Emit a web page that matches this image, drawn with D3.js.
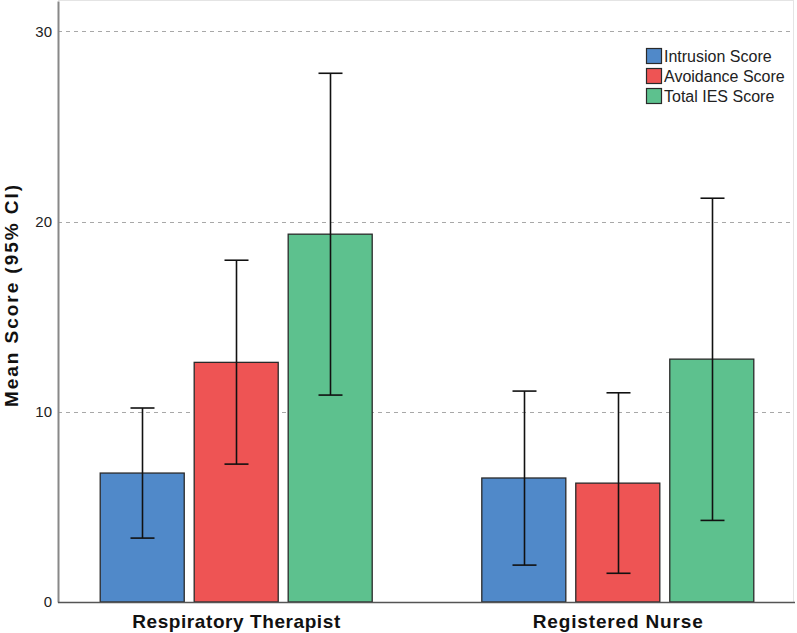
<!DOCTYPE html>
<html><head><meta charset="utf-8">
<script src="https://cdn.jsdelivr.net/npm/d3@7"></script>
<style>
html,body{margin:0;padding:0;background:#fff;}
svg{display:block;font-family:"Liberation Sans",Arial,sans-serif;}
</style></head>
<body>
<svg id="chart" width="797" height="633"></svg>
<script>
const categories = ["Respiratory Therapist", "Registered Nurse"];
const seriesNames = ["Intrusion Score", "Avoidance Score", "Total IES Score"];
const seriesColors = ["#5089c9", "#ee5454", "#5dc18e"];
const means = [[6.78, 12.6, 19.34], [6.52, 6.25, 12.77]];
const ciLow = [[3.36, 7.25, 10.88], [1.94, 1.51, 4.29]];
const ciHigh = [[10.2, 17.97, 27.8], [11.09, 11.0, 21.23]];
const yTicks = [0, 10, 20, 30];

(function () {
const svg = d3.select("#chart");
const mLeft = 58, mRight = 794, mTop = 1, mBottom = 602;

const y = d3.scaleLinear().domain([0, 31.6]).range([mBottom, mTop]);
const xg = d3.scalePoint().domain(categories).range([mLeft, 796]).padding(0.467);
const xs = d3.scaleBand().domain(seriesNames).range([-136, 136]).paddingInner(0.106);

// frame (faint)
svg.append("line").attr("x1", mLeft).attr("x2", mRight).attr("y1", 0.5).attr("y2", 0.5).attr("stroke", "#e4e4e4");
svg.append("line").attr("x1", mRight - 0.5).attr("x2", mRight - 0.5).attr("y1", 0).attr("y2", mBottom).attr("stroke", "#e4e4e4");

// gridlines
svg.append("g").selectAll("line").data(yTicks.filter(d => d > 0)).join("line")
  .attr("x1", mLeft).attr("x2", mRight - 2)
  .attr("y1", d => Math.round(y(d)) + 0.5).attr("y2", d => Math.round(y(d)) + 0.5)
  .attr("stroke", "#a8a8a8").attr("stroke-dasharray", "4,4").attr("stroke-width", 1);

// bars
const data = [];
categories.forEach((c, i) => seriesNames.forEach((s, j) => data.push({c, s, j, m: means[i][j], lo: ciLow[i][j], hi: ciHigh[i][j]})));

const g = svg.append("g");
g.selectAll("rect").data(data).join("rect")
  .attr("x", d => xg(d.c) + xs(d.s))
  .attr("y", d => y(d.m))
  .attr("width", xs.bandwidth())
  .attr("height", d => y(0) - y(d.m))
  .attr("fill", d => seriesColors[d.j])
  .attr("stroke", "#2a2a2a").attr("stroke-width", 1.3);

// error bars
const eb = svg.append("g").attr("stroke", "#111").attr("stroke-width", 1.6);
data.forEach(d => {
  const cx = Math.round(xg(d.c) + xs(d.s) + xs.bandwidth() / 2) + 0.5;
  eb.append("line").attr("x1", cx).attr("x2", cx).attr("y1", y(d.hi)).attr("y2", y(d.lo));
  eb.append("line").attr("x1", cx - 12).attr("x2", cx + 12).attr("y1", y(d.hi)).attr("y2", y(d.hi));
  eb.append("line").attr("x1", cx - 12).attr("x2", cx + 12).attr("y1", y(d.lo)).attr("y2", y(d.lo));
});

// axes
const yAxis = svg.append("g").attr("transform", `translate(${mLeft},0)`)
  .call(d3.axisLeft(y).tickValues(yTicks).tickSize(0).tickPadding(6));
yAxis.select(".domain").attr("stroke", "#888").attr("stroke-width", 2);
yAxis.selectAll("text").attr("font-size", 15).attr("fill", "#222")
  .attr("font-family", "'Liberation Sans',Arial,sans-serif");

svg.append("line").attr("x1", mLeft).attr("x2", 795).attr("y1", mBottom + 0.5).attr("y2", mBottom + 0.5)
  .attr("stroke", "#555").attr("stroke-width", 1.5);

const catWidths = [208, 170];
svg.append("g").selectAll("text").data(categories).join("text")
  .attr("x", d => xg(d)).attr("y", 628)
  .attr("text-anchor", "middle").attr("font-size", 19).attr("font-weight", "bold").attr("fill", "#111")
  .attr("textLength", (d, i) => catWidths[i]).attr("lengthAdjust", "spacing")
  .text(d => d);

svg.append("text")
  .attr("transform", "translate(18,296) rotate(-90)")
  .attr("text-anchor", "middle").attr("font-size", 19).attr("font-weight", "bold").attr("fill", "#111")
  .attr("textLength", 222).attr("lengthAdjust", "spacing")
  .text("Mean Score (95% CI)");

// legend
const lg = svg.append("g").attr("transform", "translate(646,48)");
seriesNames.forEach((s, j) => {
  const row = lg.append("g").attr("transform", `translate(0,${j * 20})`);
  row.append("rect").attr("x", 0.5).attr("y", 0.5).attr("width", 15).attr("height", 15)
    .attr("fill", seriesColors[j]).attr("stroke", "#2a2a2a").attr("stroke-width", 1.2);
  row.append("text").attr("x", 18).attr("y", 14).attr("font-size", 16).attr("fill", "#222").text(s);
});
})();
</script>
</body></html>
